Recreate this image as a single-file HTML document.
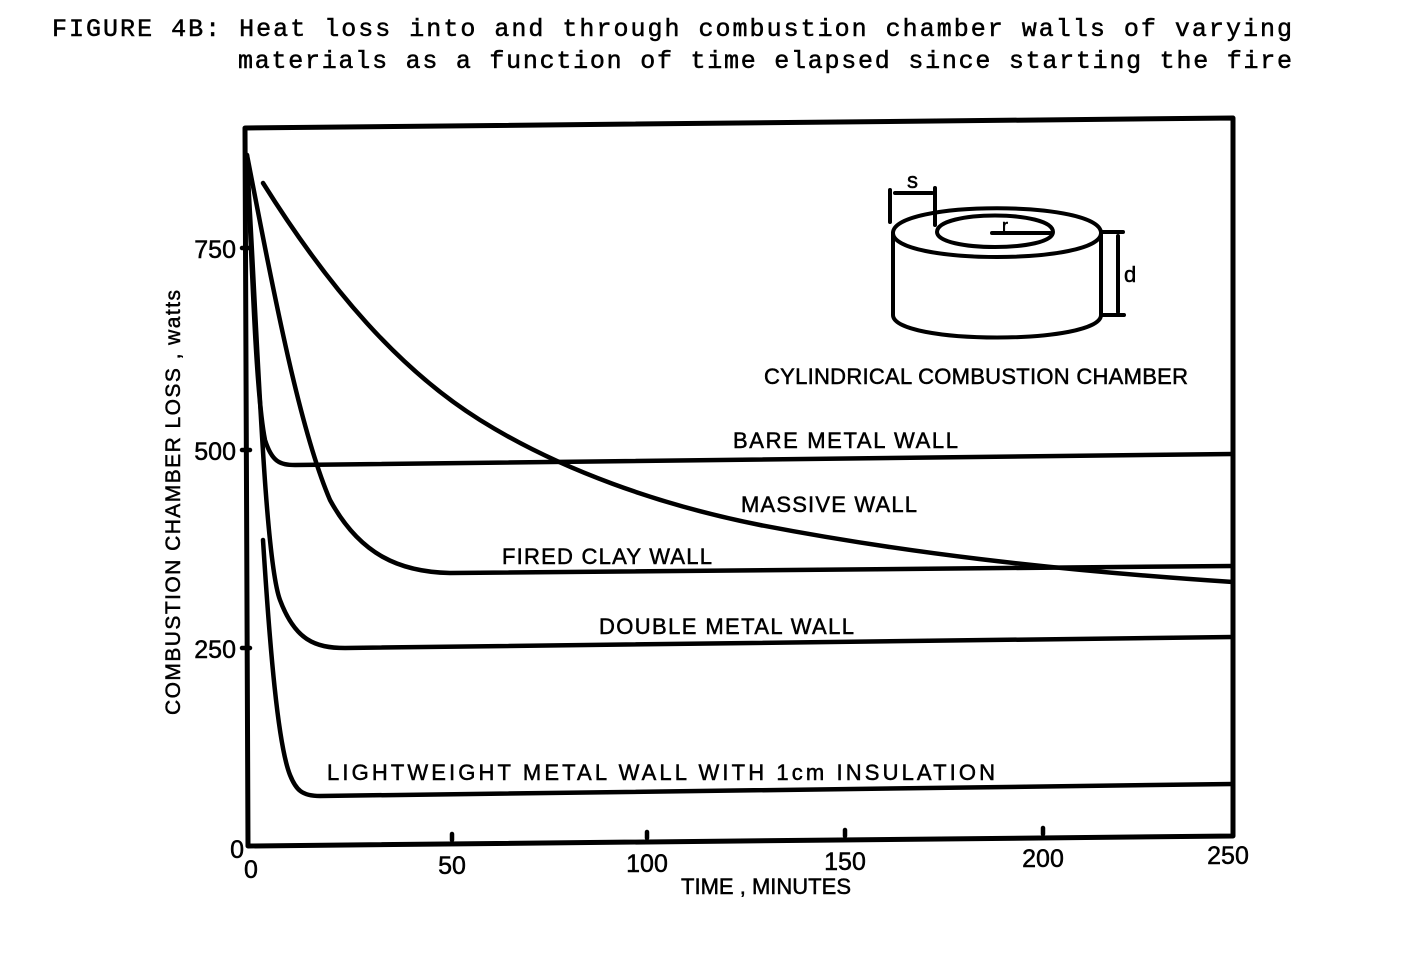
<!DOCTYPE html>
<html><head><style>
body{margin:0;background:#fff;}
svg{display:block}
.t{font-family:"Liberation Mono",monospace;font-size:25px;fill:#000;stroke:#000;stroke-width:0.5px}
.s{font-family:"Liberation Sans",sans-serif;font-size:22px;fill:#000;stroke:#000;stroke-width:0.5px}
</style></head><body>
<svg width="1418" height="973" viewBox="0 0 1418 973" xmlns="http://www.w3.org/2000/svg">
<text class="t" x="52" y="36" textLength="1240">FIGURE 4B: Heat loss into and through combustion chamber walls of varying</text>
<text class="t" x="238" y="68" textLength="1054">materials as a function of time elapsed since starting the fire</text>
<g fill="none" stroke="#000" stroke-linecap="round" stroke-linejoin="round">
<path d="M245 128 L1233 118 L1233 836 L248 846 Z" stroke-width="5"/>
<g stroke-width="4.5">
<path d="M242 248h8M242 450h8M242 648h8M452 840v-6M647 838v-6M845 836v-6M1043 834v-6"/>
<path d="M263 183 C330 290 400 370 480 420 C560 470 660 505 760 525 C900 552 1050 570 1233 582"/>
<path d="M247 155 C253 300 257 400 265 440 C272 462 280 465 295 465 L1233 454"/>
<path d="M247 155 C275 300 300 430 330 500 C360 555 400 572 450 573 L1233 566"/>
<path d="M247 160 C258 350 265 560 280 600 C295 640 315 648 345 648 L1233 637"/>
<path d="M263 540 C270 650 278 745 290 775 C296 790 302 796 320 796 L1233 784"/>
</g>
<g stroke-width="4">
<path d="M893 233 C893 200 1101 200 1101 233 C1101 265 893 265 893 233 Z"/>
<path d="M937 232 C937 210 1053 210 1053 232 C1053 252 937 252 937 232 Z"/>
<path d="M893 233 V315 C893 345 1101 345 1101 315 V233"/>
<path d="M992 233 H1050"/>
<path d="M890 190 V222 M935 188 V225 M895 193 H932"/>
<path d="M1101 232 H1123 M1118 236 V312 M1101 315 H1124"/>
</g></g>
<text class="s" x="907" y="188" style="font-size:22px">s</text>
<text class="s" x="1002" y="232" style="font-size:18px">r</text>
<text class="s" x="1124" y="282" style="font-size:22px">d</text>
<text class="s" x="764" y="384" textLength="424">CYLINDRICAL COMBUSTION CHAMBER</text>
<text class="s" x="733" y="448" textLength="225">BARE METAL WALL</text>
<text class="s" x="741" y="512" textLength="176">MASSIVE WALL</text>
<text class="s" x="502" y="564" textLength="210">FIRED CLAY WALL</text>
<text class="s" x="599" y="634" textLength="255">DOUBLE METAL WALL</text>
<text class="s" x="327" y="780" textLength="668">LIGHTWEIGHT METAL WALL WITH 1cm INSULATION</text>
<g class="s" style="font-size:25px" text-anchor="end">
<text x="236" y="258">750</text><text x="236" y="460">500</text><text x="236" y="658">250</text><text x="244" y="858">0</text>
</g>
<g class="s" style="font-size:25px" text-anchor="middle">
<text x="251" y="878">0</text><text x="452" y="874">50</text><text x="647" y="872">100</text><text x="845" y="870">150</text><text x="1043" y="867">200</text><text x="1228" y="864">250</text>
</g>
<text class="s" x="766" y="894" text-anchor="middle" textLength="170">TIME , MINUTES</text>
<text class="s" transform="translate(180,715) rotate(-90)" style="font-size:21px" textLength="425">COMBUSTION CHAMBER LOSS , watts</text>
</svg>
</body></html>
